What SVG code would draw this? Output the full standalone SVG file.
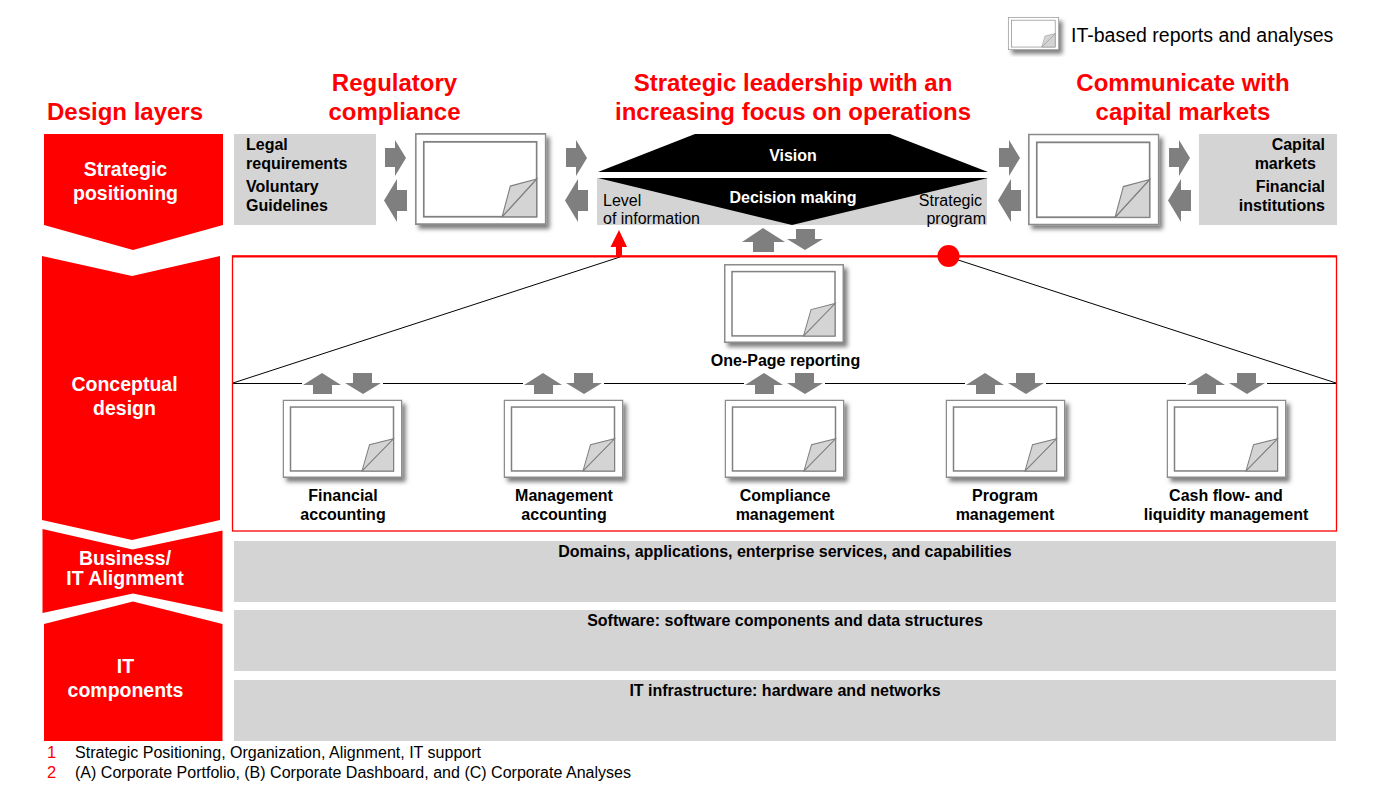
<svg xmlns="http://www.w3.org/2000/svg" width="1373" height="789" viewBox="0 0 1373 789">
<style>
text{font-family:"Liberation Sans",Arial,sans-serif}
.m{text-anchor:middle}
.e{text-anchor:end}
.title{font-size:24px;font-weight:bold;fill:#ff0000;text-anchor:middle}
.layer{font-size:19.500px;font-weight:bold;fill:#fff;text-anchor:middle}
.lab{font-size:16px;font-weight:bold;fill:#000}
.plain{font-size:16px;fill:#000}
.note{font-size:16.050px;fill:#000}
.num{font-size:16.500px;fill:#ff0000}
.red{fill:#ff0000}
.gray{fill:#d4d4d4}
.arr{fill:#7f7f7f}
</style>
<defs>
<filter id="sh" x="-10%" y="-10%" width="125%" height="130%"><feDropShadow dx="3.500" dy="4" stdDeviation="2" flood-color="#000" flood-opacity="0.5"/></filter>
<symbol id="report" viewBox="0 0 120 78" preserveAspectRatio="none">
<rect x="0.750" y="0.750" width="118.500" height="76.500" fill="#fff" stroke="#8c8c8c" stroke-width="1.500"/>
<rect x="8" y="7.500" width="103" height="63.500" fill="#fff" stroke="#808080" stroke-width="1.500"/>
<path d="M79.500 71L111 39V71Z" fill="#d4d4d4" stroke="#808080"/>
<path d="M79.500 71L87 45L111 39Z" fill="#d4d4d4" stroke="#808080"/>
</symbol>
<path id="ar" class="arr" d="M0 8H10V0L21 18L10 36V27H0Z"/>
<path id="al" class="arr" d="M23 11H13V0L0 21.500L13 43V32H23Z"/>
<path id="au" class="arr" d="M0 12L19 0L38 12H29V21H10V12Z"/>
<path id="ad" class="arr" d="M8 0H27V10H36L18 21L0 10H8Z"/>
</defs>

<g id="band-fills">
<rect class="gray" x="234" y="541" width="1102" height="61"/>
<rect class="gray" x="234" y="610" width="1102" height="61"/>
<rect class="gray" x="234" y="680" width="1102" height="61"/>
</g>

<g id="connectors">
<rect x="232.500" y="256" width="1104" height="275" fill="#fff" stroke="#ff0000" stroke-width="1.300"/>
<path d="M233 383L620 257M949 257L1336 383" fill="none" stroke="#000" stroke-width="1"/>
<path d="M233 383.500H1336" fill="none" stroke="#000" stroke-width="1"/>
<path d="M232 256.500H1336.500" fill="none" stroke="#ff0000" stroke-width="1.800"/>
<path class="red" d="M619 230L627 247H622V257H616V247H610.500Z"/>
<circle class="red" cx="948.500" cy="256" r="11"/>
<use href="#ar" x="385" y="140"/><use href="#al" x="384" y="179"/>
<use href="#ar" x="566" y="140"/><use href="#al" x="565" y="179"/>
<use href="#ar" x="999" y="140"/><use href="#al" x="998" y="179"/>
<use href="#ar" x="1169" y="140"/><use href="#al" x="1168" y="179"/>
<path class="arr" d="M742 242L763 228L785 242H774V252H753V242Z"/>
<path class="arr" d="M796 229H815V239H823L805 250L787 239H796Z"/>
<g id="arrows-1"><rect x="302" y="380" width="81" height="6" fill="#fff"/><use href="#au" x="303" y="373"/><use href="#ad" x="345" y="373"/></g>
<g id="arrows-2" transform="translate(221 0)"><rect x="302" y="380" width="81" height="6" fill="#fff"/><use href="#au" x="303" y="373"/><use href="#ad" x="345" y="373"/></g>
<g id="arrows-3" transform="translate(442 0)"><rect x="302" y="380" width="81" height="6" fill="#fff"/><use href="#au" x="303" y="373"/><use href="#ad" x="345" y="373"/></g>
<g id="arrows-4" transform="translate(663 0)"><rect x="302" y="380" width="81" height="6" fill="#fff"/><use href="#au" x="303" y="373"/><use href="#ad" x="345" y="373"/></g>
<g id="arrows-5" transform="translate(884 0)"><rect x="302" y="380" width="81" height="6" fill="#fff"/><use href="#au" x="303" y="373"/><use href="#ad" x="345" y="373"/></g>
</g>

<g id="legend">
<use href="#report" x="1008" y="17" width="51" height="33" filter="url(#sh)"/>
<text x="1071" y="42" font-size="19.500">IT-based reports and analyses</text>
</g>

<g id="headings">
<text class="title" x="125" y="120">Design layers</text>
<text class="title" x="394.500" y="91">Regulatory</text>
<text class="title" x="394.500" y="120">compliance</text>
<text class="title" x="793" y="91">Strategic leadership with an</text>
<text class="title" x="793" y="120">increasing focus on operations</text>
<text class="title" x="1183" y="91">Communicate with</text>
<text class="title" x="1183" y="120">capital markets</text>
</g>

<g id="layer-strategic">
<polygon class="red" points="44,134 223,134 223,225 133,250 44,225"/>
<text class="layer" x="125.500" y="176">Strategic</text>
<text class="layer" x="125.500" y="200">positioning</text>
</g>
<g id="layer-conceptual">
<path class="red" d="M42 256L132 276L220 256V520L132 540L42 520Z"/>
<text class="layer" x="124.500" y="391">Conceptual</text>
<text class="layer" x="124.500" y="415">design</text>
</g>
<g id="layer-alignment">
<polygon class="red" points="42.500,529 132.500,549.500 222.500,530.500 222.500,612 133,593.500 42.500,613"/>
<text class="layer" x="125" y="565">Business/</text>
<text class="layer" x="125" y="585">IT Alignment</text>
</g>
<g id="layer-it">
<polygon class="red" points="44,624 133,601.500 222.500,624 222.500,741 44,741"/>
<text class="layer" x="125.500" y="673">IT</text>
<text class="layer" x="125.500" y="697">components</text>
</g>

<g id="regulatory-sources">
<rect class="gray" x="234" y="134" width="142" height="91"/>
<text class="lab" x="246" y="150">Legal</text>
<text class="lab" x="246" y="169">requirements</text>
<text class="lab" x="246" y="192">Voluntary</text>
<text class="lab" x="246" y="211">Guidelines</text>
</g>
<g id="report-regulatory"><use href="#report" x="415" y="133" width="131.500" height="92" filter="url(#sh)"/></g>
<g id="leadership">
<polygon fill="#000" points="695,134 890,134 988,172 598,172"/>
<rect class="gray" x="597" y="178" width="390" height="47"/>
<polygon fill="#000" points="598,178 988,178 792,225"/>
<text class="lab m" x="793" y="161" style="fill:#fff">Vision</text>
<text class="lab m" x="793" y="203" style="fill:#fff">Decision making</text>
<text class="plain" x="603" y="206">Level</text>
<text class="plain" x="603" y="224">of information</text>
<text class="plain e" x="982" y="206">Strategic</text>
<text class="plain e" x="986" y="224">program</text>
</g>
<g id="report-capital"><use href="#report" x="1028" y="133.500" width="131.500" height="92" filter="url(#sh)"/></g>
<g id="capital-sources">
<rect class="gray" x="1199" y="134" width="138" height="91"/>
<text class="lab e" x="1325" y="150">Capital</text>
<text class="lab e" x="1316" y="169">markets</text>
<text class="lab e" x="1325" y="192">Financial</text>
<text class="lab e" x="1325" y="211">institutions</text>
</g>

<g id="one-page">
<use href="#report" x="724" y="264" width="120" height="79" filter="url(#sh)"/>
<text class="lab m" x="785.500" y="366">One-Page reporting</text>
</g>
<g id="financial">
<use href="#report" x="282.500" y="399.500" width="120" height="78.500" filter="url(#sh)"/>
<text class="lab m" x="343" y="501">Financial</text><text class="lab m" x="343" y="520">accounting</text>
</g>
<g id="management">
<use href="#report" x="503.500" y="399.500" width="120" height="78.500" filter="url(#sh)"/>
<text class="lab m" x="564" y="501">Management</text><text class="lab m" x="564" y="520">accounting</text>
</g>
<g id="compliance">
<use href="#report" x="724.500" y="399.500" width="120" height="78.500" filter="url(#sh)"/>
<text class="lab m" x="785" y="501">Compliance</text><text class="lab m" x="785" y="520">management</text>
</g>
<g id="program">
<use href="#report" x="945.500" y="399.500" width="120" height="78.500" filter="url(#sh)"/>
<text class="lab m" x="1005" y="501">Program</text><text class="lab m" x="1005" y="520">management</text>
</g>
<g id="cashflow">
<use href="#report" x="1166.500" y="399.500" width="120" height="78.500" filter="url(#sh)"/>
<text class="lab m" x="1226" y="501">Cash flow- and</text><text class="lab m" x="1226" y="520">liquidity management</text>
</g>

<g id="band-domains"><text class="lab m" x="785" y="557">Domains, applications, enterprise services, and capabilities</text></g>
<g id="band-software"><text class="lab m" x="785" y="626">Software: software components and data structures</text></g>
<g id="band-infrastructure"><text class="lab m" x="785" y="696">IT infrastructure: hardware and networks</text></g>

<g id="footnotes">
<text class="num" x="47" y="758">1</text>
<text class="note" x="75" y="758">Strategic Positioning, Organization, Alignment, IT support</text>
<text class="num" x="47" y="778">2</text>
<text class="note" x="75" y="778">(A) Corporate Portfolio, (B) Corporate Dashboard, and (C) Corporate Analyses</text>
</g>
</svg>
